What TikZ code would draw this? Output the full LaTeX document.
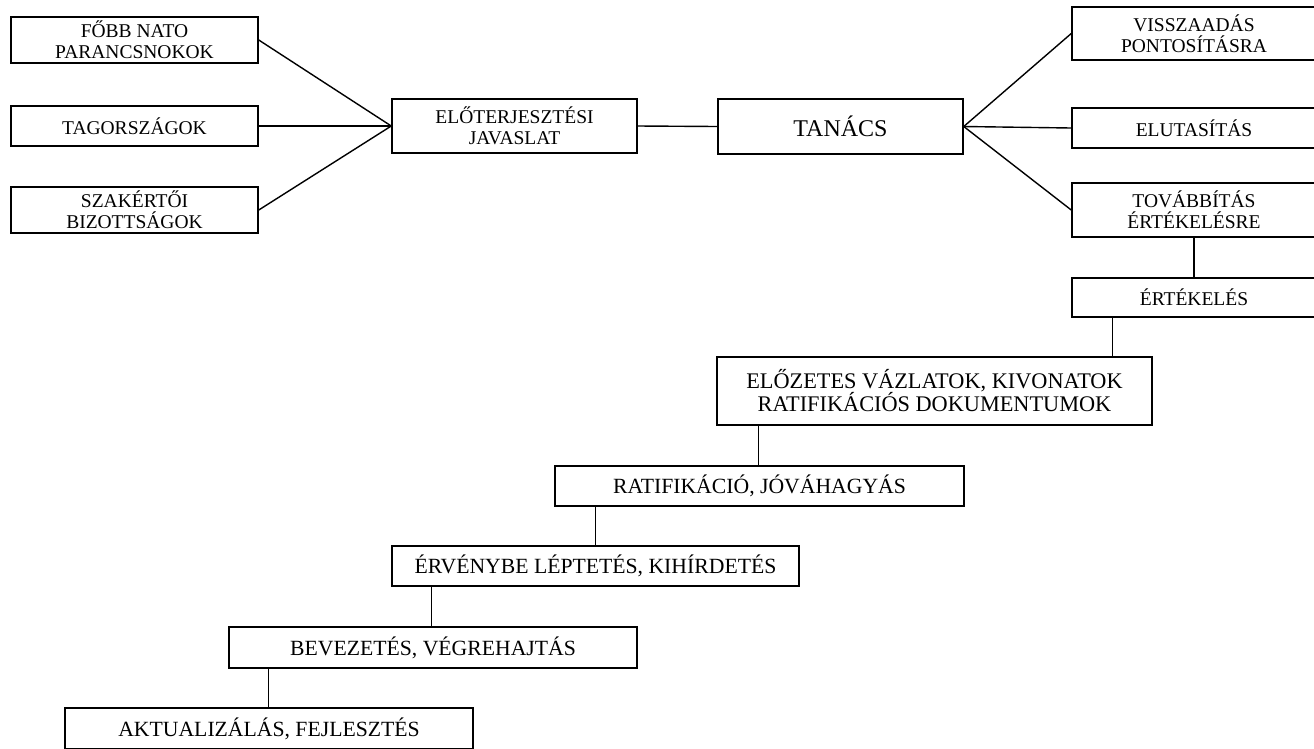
\documentclass[tikz,border=0pt]{standalone}
\usepackage{fontspec}
\setmainfont{Liberation Serif}
\begin{document}
\begin{tikzpicture}[x=1pt,y=-1pt,
  box/.style={draw,line width=1.5pt,inner sep=0pt,align=center,font=\fontsize{19.5}{21}\selectfont},
  big/.style={box,font=\fontsize{21.7}{23}\selectfont},
  conn/.style={line width=1.4pt}]
\useasboundingbox (0,0) rectangle (1314,748);
\clip (0,0) rectangle (1314,748);
\fill[white] (0,0) rectangle (1314,748);
% left column
\node[box,minimum width=247pt,minimum height=46pt] (fobb) at (134.5,40) {FŐBB NATO\\PARANCSNOKOK};
\node[box,minimum width=247pt,minimum height=40pt] (tag) at (134.5,126) {TAGORSZÁGOK};
\node[box,minimum width=247pt,minimum height=46pt] (szak) at (134.5,210) {SZAKÉRTŐI\\BIZOTTSÁGOK};
% centre
\node[box,minimum width=245pt,minimum height=54pt] (elo) at (514.5,126) {ELŐTERJESZTÉSI\\JAVASLAT};
\node[box,minimum width=245pt,minimum height=55pt,font=\fontsize{24}{26}\selectfont] (tanacs) at (840.5,126.5) {TANÁCS};
% right column
\node[box,minimum width=244pt,minimum height=53pt] (vissza) at (1194,33.5) {VISSZAADÁS\\PONTOSÍTÁSRA};
\node[box,minimum width=244pt,minimum height=40pt] (elut) at (1194,128) {ELUTASÍTÁS};
\node[box,minimum width=244pt,minimum height=54pt] (tovabb) at (1194,210) {TOVÁBBÍTÁS\\ÉRTÉKELÉSRE};
\node[box,minimum width=244pt,minimum height=39pt] (ertek) at (1194,297.5) {ÉRTÉKELÉS};
% staircase
\node[big,minimum width=435pt,minimum height=68pt,font=\fontsize{22.3}{23}\selectfont] (elozetes) at (934.5,391) {ELŐZETES VÁZLATOK, KIVONATOK\\RATIFIKÁCIÓS DOKUMENTUMOK};
\node[big,minimum width=409pt,minimum height=40pt] (ratif) at (759.5,486) {RATIFIKÁCIÓ, JÓVÁHAGYÁS};
\node[big,minimum width=407pt,minimum height=40pt] (erveny) at (595.5,566) {ÉRVÉNYBE LÉPTETÉS, KIHÍRDETÉS};
\node[big,minimum width=408pt,minimum height=41pt] (bevez) at (433,647.5) {BEVEZETÉS, VÉGREHAJTÁS};
\node[big,minimum width=408pt,minimum height=41pt] (aktual) at (269,728.5) {AKTUALIZÁLÁS, FEJLESZTÉS};
% connectors
\draw[conn] (fobb.east) -- (elo.west);
\draw[conn] (tag.east) -- (elo.west);
\draw[conn] (szak.east) -- (elo.west);
\draw[conn] (elo.east) -- (tanacs.west);
\draw[conn] (tanacs.east) -- (vissza.west);
\draw[conn] (tanacs.east) -- (elut.west);
\draw[conn] (tanacs.east) -- (tovabb.west);
\draw[conn] (tovabb.south) -- (ertek.north);
\coordinate (c1) at ([xshift=41pt]ertek.south west);
\coordinate (c2) at ([xshift=42pt]elozetes.south west);
\coordinate (c3) at ([xshift=41pt]ratif.south west);
\coordinate (c4) at ([xshift=40pt]erveny.south west);
\coordinate (c5) at ([xshift=40pt]bevez.south west);
\draw[conn] (c1) -- (c1 |- elozetes.north);
\draw[conn] (c2) -- (c2 |- ratif.north);
\draw[conn] (c3) -- (c3 |- erveny.north);
\draw[conn] (c4) -- (c4 |- bevez.north);
\draw[conn] (c5) -- (c5 |- aktual.north);
\end{tikzpicture}
\end{document}
